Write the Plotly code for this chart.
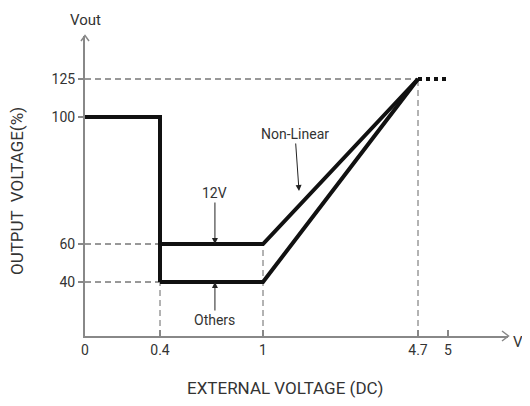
import numpy as np
import plotly.graph_objects as go

# ---- data ----
x_tick_values = [0, 0.4, 1, 4.7, 5]
x_tick_labels = ["0", "0.4", "1", "4.7", "5"]
y_tick_values = [40, 60, 100, 125]
y_tick_labels = ["40", "60", "100", "125"]

common_x = [0, 0.4, 0.4]
common_y = [100, 100, 40]
v12_x = [0.4, 1, 4.7]
v12_y = [60, 60, 125]
others_x = [0.4, 1, 4.7]
others_y = [40, 40, 125]
ext_x = [4.7, 5]
ext_y = [125, 125]

guide_h = [(125, 0, 4.7), (60, 0, 0.4), (40, 0, 0.4)]   # (y, x0, x1)
guide_v = [(0.4, 0, 40), (1, 0, 60), (4.7, 0, 125)]      # (x, y0, y1)

# ---- schematic (non-linear) axis scales ----
X_BREAK_VAL = [0, 0.4, 1, 4.7, 5]
X_BREAK_POS = [0, 75, 178, 333, 363]
Y_BREAK_VAL = [0, 40, 60, 100, 125]
Y_BREAK_POS = [0, 54, 92, 219, 257]
X_RANGE = 423
Y_RANGE = 300


def sx(v):
    return np.interp(np.asarray(v, dtype=float), X_BREAK_VAL, X_BREAK_POS)


def sy(v):
    return np.interp(np.asarray(v, dtype=float), Y_BREAK_VAL, Y_BREAK_POS)


def px(u):
    return float(u) / X_RANGE


def py(u):
    return float(u) / Y_RANGE


FONT = "Roboto, Arial, sans-serif"
TXT = "#333333"

fig = go.Figure()

# dashed guide lines
for y, x0, x1 in guide_h:
    fig.add_trace(go.Scatter(x=sx([x0, x1]), y=sy([y, y]), mode="lines",
                             line=dict(color="#333333", width=1, dash="6px,4px"),
                             hoverinfo="skip", showlegend=False))
for x, y0, y1 in guide_v:
    fig.add_trace(go.Scatter(x=sx([x, x]), y=sy([y0, y1]), mode="lines",
                             line=dict(color="#666666", width=1, dash="6px,4px"),
                             hoverinfo="skip", showlegend=False))

thick = dict(color="#111111", width=4)
for xs, ys in [(common_x, common_y), (v12_x, v12_y), (others_x, others_y)]:
    fig.add_trace(go.Scatter(x=sx(xs), y=sy(ys), mode="lines", line=thick,
                             hoverinfo="skip", showlegend=False))
fig.add_trace(go.Scatter(x=sx(ext_x), y=sy(ext_y), mode="lines",
                         line=dict(color="#111111", width=4, dash="4px,4px"),
                         hoverinfo="skip", showlegend=False))

# annotations with arrows
ann = []
for text, tx, ty, ax, ay in [("12V", 0.72, 60, 0, -51),
                             ("Others", 0.72, 40, 0, 38),
                             ("Non-Linear", 1.86, 76.7, -4, -57)]:
    ann.append(dict(x=float(sx(tx)), y=float(sy(ty)), xref="x", yref="y",
                    text=text, showarrow=True, ax=ax, ay=ay,
                    arrowhead=2, arrowsize=1.2, arrowwidth=1, arrowcolor="#222",
                    font=dict(family=FONT, size=14, color=TXT)))

label_common = dict(xref="paper", yref="paper", showarrow=False,
                    xanchor="center", yanchor="middle")
ann.append(dict(x=px(0), y=py(316), text="Vout",
                font=dict(family=FONT, size=15, color=TXT), **label_common))
ann.append(dict(x=px(433), y=py(-6), text="V",
                font=dict(family=FONT, size=15, color=TXT), **label_common))
ann.append(dict(x=px(200), y=py(-52), text="EXTERNAL VOLTAGE (DC)",
                font=dict(family=FONT, size=17, color=TXT), **label_common))
ann.append(dict(x=px(-68), y=py(145), text="OUTPUT  VOLTAGE(%)", textangle=-90,
                font=dict(family=FONT, size=17, color=TXT), **label_common))

arrow_style = dict(color="#888888", width=1.5)
shapes = [
    dict(type="path", xref="paper", yref="paper",
         path=f"M {px(-4)},{py(295)} L {px(0)},{py(300.5)} L {px(4)},{py(295)}",
         line=arrow_style),
    dict(type="path", xref="paper", yref="paper",
         path=f"M {px(417)},{py(5)} L {px(423.5)},{py(0)} L {px(417)},{py(-5)}",
         line=arrow_style),
]

# page body has an 8px default margin, so the figure is smaller than the window
fig.update_layout(
    width=522, height=390,
    margin=dict(l=77, r=22, t=28, b=62, pad=0),
    paper_bgcolor="white", plot_bgcolor="white",
    annotations=ann, shapes=shapes,
    xaxis=dict(range=[0, X_RANGE], showgrid=False, zeroline=False,
               showline=True, linecolor="#888888", linewidth=2,
               tickvals=sx(x_tick_values), ticktext=x_tick_labels,
               ticks="inside", ticklen=6, tickcolor="#888888", tickwidth=1.5,
               tickfont=dict(family=FONT, size=14, color=TXT)),
    yaxis=dict(range=[0, Y_RANGE], showgrid=False, zeroline=False,
               showline=True, linecolor="#888888", linewidth=2,
               tickvals=sy(y_tick_values), ticktext=y_tick_labels,
               ticks="outside", ticklen=5, tickcolor="#888888", tickwidth=1.5,
               tickfont=dict(family=FONT, size=14, color=TXT)),
)

fig.write_html("out.html")
